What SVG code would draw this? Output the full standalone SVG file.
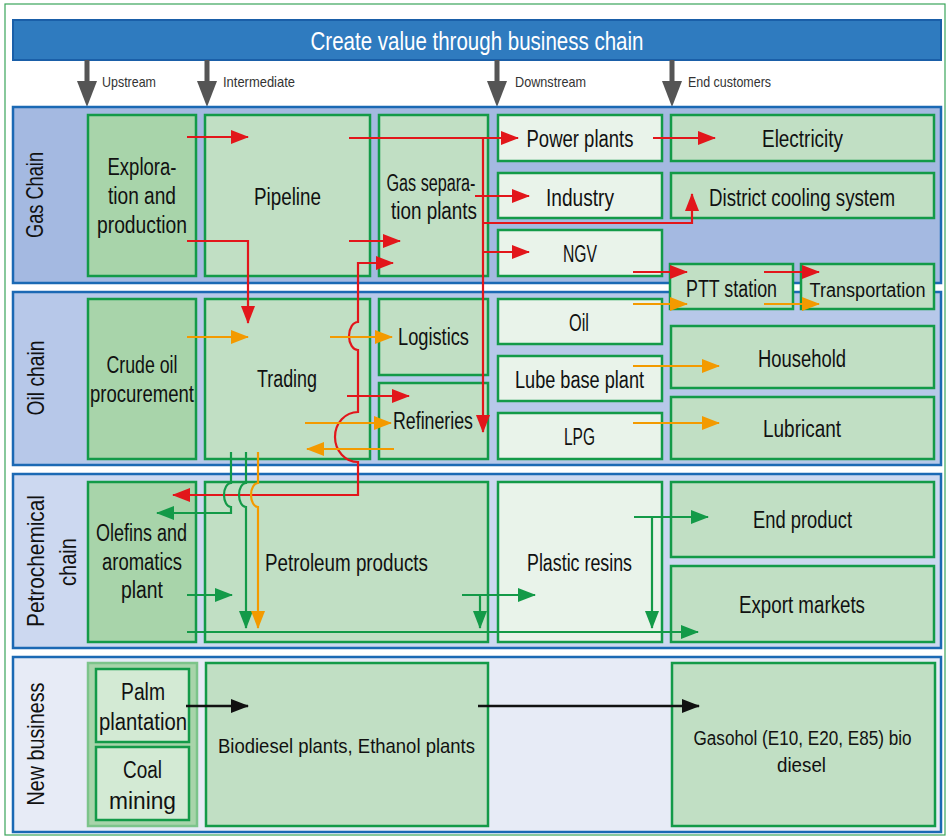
<svg xmlns="http://www.w3.org/2000/svg" width="949" height="839" viewBox="0 0 949 839">
<defs>
<style>
.t{font-family:"Liberation Sans Narrow","Liberation Sans",Arial,sans-serif;fill:#111;font-size:23.5px;text-anchor:middle}
.hd{font-family:"Liberation Sans Narrow","Liberation Sans",Arial,sans-serif;fill:#333;font-size:15px}
.side{font-family:"Liberation Sans","DejaVu Sans",sans-serif;fill:#111;font-size:24px;text-anchor:middle}
.panel{stroke:#1b69b4;stroke-width:2.5}
.bx{stroke:#139a48;stroke-width:2.5}
.dk{fill:#a8d4aa}.md{fill:#c1dfc4}.lt{fill:#e9f3ea}
.r{fill:none;stroke:#e2161b;stroke-width:2.2}
.o{fill:none;stroke:#f39a00;stroke-width:2.2}
.g{fill:none;stroke:#139a48;stroke-width:2.2}
.k{fill:none;stroke:#111;stroke-width:2.4}
</style>
<marker id="ar" markerUnits="userSpaceOnUse" markerWidth="18" markerHeight="14" refX="17" refY="7" orient="auto-start-reverse"><path d="M0,0 L18,7 L0,14 z" fill="#e2161b"/></marker>
<marker id="ao" markerUnits="userSpaceOnUse" markerWidth="18" markerHeight="14" refX="17" refY="7" orient="auto-start-reverse"><path d="M0,0 L18,7 L0,14 z" fill="#f39a00"/></marker>
<marker id="ag" markerUnits="userSpaceOnUse" markerWidth="18" markerHeight="14" refX="17" refY="7" orient="auto-start-reverse"><path d="M0,0 L18,7 L0,14 z" fill="#139a48"/></marker>
<marker id="ak" markerUnits="userSpaceOnUse" markerWidth="18" markerHeight="14" refX="17" refY="7" orient="auto"><path d="M0,0 L18,7 L0,14 z" fill="#111"/></marker>
</defs>
<rect x="0" y="0" width="949" height="839" fill="#fff"/>
<rect x="5" y="4" width="940" height="831" fill="#fff" stroke="#3aa55a" stroke-width="1.2"/>

<g id="banner">
<rect x="13" y="20" width="928" height="40" fill="#2f7bbf" stroke="#1a5fa8" stroke-width="2"/>
<text x="477" y="50" class="t" style="fill:#fff;font-size:25px" textLength="333" lengthAdjust="spacingAndGlyphs">Create value through business chain</text>
</g>

<g id="stages" fill="#555">
<rect x="84.5" y="60" width="5" height="24"/><polygon points="77,81 97,81 87,107"/>
<rect x="204.5" y="60" width="5" height="24"/><polygon points="197,81 217,81 207,107"/>
<rect x="494.5" y="60" width="5" height="24"/><polygon points="487,81 507,81 497,107"/>
<rect x="669.5" y="60" width="5" height="24"/><polygon points="662,81 682,81 672,107"/>
<text x="102" y="87" class="hd" textLength="54" lengthAdjust="spacingAndGlyphs">Upstream</text>
<text x="223" y="87" class="hd" textLength="72" lengthAdjust="spacingAndGlyphs">Intermediate</text>
<text x="515" y="87" class="hd" textLength="71" lengthAdjust="spacingAndGlyphs">Downstream</text>
<text x="688" y="87" class="hd" textLength="83" lengthAdjust="spacingAndGlyphs">End customers</text>
</g>

<g id="panels">
<g id="gas-chain"><rect x="13" y="107" width="928" height="176" fill="#a4b9e1" class="panel"/>
<text transform="translate(43,195) rotate(-90)" class="side" textLength="86" lengthAdjust="spacingAndGlyphs">Gas Chain</text></g>
<g id="oil-chain"><rect x="13" y="292" width="928" height="173" fill="#b7c8e9" class="panel"/>
<text transform="translate(44,378) rotate(-90)" class="side" textLength="75" lengthAdjust="spacingAndGlyphs">Oil chain</text></g>
<g id="petro-chain"><rect x="13" y="474" width="928" height="174" fill="#ccd8f0" class="panel"/>
<text transform="translate(44,561) rotate(-90)" class="side" textLength="132" lengthAdjust="spacingAndGlyphs">Petrochemical</text>
<text transform="translate(76,562) rotate(-90)" class="side" textLength="48" lengthAdjust="spacingAndGlyphs">chain</text></g>
<g id="new-business"><rect x="13" y="657" width="928" height="175" fill="#e7ebf6" class="panel"/>
<text transform="translate(44,744) rotate(-90)" class="side" textLength="123" lengthAdjust="spacingAndGlyphs">New business</text></g>
</g>

<g id="exploration"><rect x="88" y="115" width="108" height="161" class="bx dk"/>
<text x="142" y="175" class="t" textLength="69" lengthAdjust="spacingAndGlyphs">Explora-</text>
<text x="142" y="204" class="t" textLength="68" lengthAdjust="spacingAndGlyphs">tion and</text>
<text x="142" y="233" class="t" textLength="90" lengthAdjust="spacingAndGlyphs">production</text></g>
<g id="pipeline"><rect x="205" y="115" width="165" height="161" class="bx md"/>
<text x="287.5" y="205" class="t" textLength="67" lengthAdjust="spacingAndGlyphs">Pipeline</text></g>
<g id="gas-separation"><rect x="379" y="115" width="109" height="161" class="bx md"/>
<text x="431" y="191" class="t" textLength="89" lengthAdjust="spacingAndGlyphs">Gas separa-</text>
<text x="434" y="219" class="t" textLength="86" lengthAdjust="spacingAndGlyphs">tion plants</text></g>
<g id="power-plants"><rect x="498" y="115" width="164" height="46" class="bx lt"/>
<text x="580" y="147" class="t" textLength="107" lengthAdjust="spacingAndGlyphs">Power plants</text></g>
<g id="electricity"><rect x="671" y="115" width="263" height="46" class="bx md"/>
<text x="802.5" y="147" class="t" textLength="81" lengthAdjust="spacingAndGlyphs">Electricity</text></g>
<g id="industry"><rect x="498" y="173" width="164" height="45" class="bx lt"/>
<text x="580" y="206" class="t" textLength="68" lengthAdjust="spacingAndGlyphs">Industry</text></g>
<g id="district-cooling"><rect x="671" y="173" width="263" height="45" class="bx md"/>
<text x="802" y="206" class="t" textLength="186" lengthAdjust="spacingAndGlyphs">District cooling system</text></g>
<g id="ngv"><rect x="498" y="230" width="164" height="46" class="bx lt"/>
<text x="580" y="262" class="t" textLength="34" lengthAdjust="spacingAndGlyphs">NGV</text></g>
<g id="ptt-station"><rect x="670" y="264" width="123" height="45" class="bx md"/>
<text x="731.5" y="297" class="t" textLength="91" lengthAdjust="spacingAndGlyphs">PTT station</text></g>
<g id="transportation"><rect x="801" y="264" width="133" height="45" class="bx md"/>
<text x="867.5" y="297" class="t" style="font-size:20px" textLength="116" lengthAdjust="spacingAndGlyphs">Transportation</text></g>

<g id="crude-oil"><rect x="88" y="299" width="108" height="160" class="bx dk"/>
<text x="142" y="373" class="t" textLength="71" lengthAdjust="spacingAndGlyphs">Crude oil</text>
<text x="142" y="402" class="t" textLength="104" lengthAdjust="spacingAndGlyphs">procurement</text></g>
<g id="trading"><rect x="205" y="299" width="165" height="160" class="bx md"/>
<text x="287" y="387" class="t" textLength="60" lengthAdjust="spacingAndGlyphs">Trading</text></g>
<g id="logistics"><rect x="379" y="299" width="109" height="76" class="bx md"/>
<text x="433.5" y="345" class="t" textLength="71" lengthAdjust="spacingAndGlyphs">Logistics</text></g>
<g id="refineries"><rect x="379" y="383" width="109" height="76" class="bx md"/>
<text x="433" y="429" class="t" textLength="80" lengthAdjust="spacingAndGlyphs">Refineries</text></g>
<g id="oil"><rect x="498" y="299" width="164" height="45" class="bx lt"/>
<text x="579" y="331" class="t" textLength="20" lengthAdjust="spacingAndGlyphs">Oil</text></g>
<g id="lube-base"><rect x="498" y="356" width="164" height="45" class="bx lt"/>
<text x="579.5" y="388" class="t" textLength="129" lengthAdjust="spacingAndGlyphs">Lube base plant</text></g>
<g id="lpg"><rect x="498" y="413" width="164" height="46" class="bx lt"/>
<text x="579.5" y="445" class="t" textLength="31" lengthAdjust="spacingAndGlyphs">LPG</text></g>
<g id="household"><rect x="671" y="326" width="263" height="62" class="bx md"/>
<text x="802" y="367" class="t" textLength="88" lengthAdjust="spacingAndGlyphs">Household</text></g>
<g id="lubricant"><rect x="671" y="397" width="263" height="62" class="bx md"/>
<text x="802" y="437" class="t" textLength="78" lengthAdjust="spacingAndGlyphs">Lubricant</text></g>

<g id="olefins"><rect x="88" y="482" width="108" height="160" class="bx dk"/>
<text x="141.5" y="541" class="t" textLength="91" lengthAdjust="spacingAndGlyphs">Olefins and</text>
<text x="142" y="570" class="t" textLength="80" lengthAdjust="spacingAndGlyphs">aromatics</text>
<text x="142" y="598" class="t" textLength="42" lengthAdjust="spacingAndGlyphs">plant</text></g>
<g id="petroleum-products"><rect x="205" y="482" width="283" height="160" class="bx md"/>
<text x="346.5" y="571" class="t" textLength="163" lengthAdjust="spacingAndGlyphs">Petroleum products</text></g>
<g id="plastic-resins"><rect x="498" y="482" width="164" height="160" class="bx lt"/>
<text x="579.5" y="571" class="t" textLength="105" lengthAdjust="spacingAndGlyphs">Plastic resins</text></g>
<g id="end-product"><rect x="671" y="482" width="263" height="75" class="bx md"/>
<text x="802.5" y="528" class="t" textLength="99" lengthAdjust="spacingAndGlyphs">End product</text></g>
<g id="export-markets"><rect x="671" y="566" width="263" height="76" class="bx md"/>
<text x="802" y="613" class="t" textLength="126" lengthAdjust="spacingAndGlyphs">Export markets</text></g>

<g id="feedstock"><rect x="88" y="663" width="109" height="163" fill="#a8d4aa" stroke="#7cc48a" stroke-width="2.5"/></g>
<g id="palm"><rect x="96" y="669" width="93" height="73" fill="#d3ead4" class="bx"/>
<text x="143" y="700" class="t" textLength="44" lengthAdjust="spacingAndGlyphs">Palm</text>
<text x="143" y="730" class="t" textLength="88" lengthAdjust="spacingAndGlyphs">plantation</text></g>
<g id="coal"><rect x="96" y="747" width="93" height="73" fill="#d3ead4" class="bx"/>
<text x="142.5" y="778" class="t" textLength="39" lengthAdjust="spacingAndGlyphs">Coal</text>
<text x="142.5" y="809" class="t" textLength="67" lengthAdjust="spacingAndGlyphs">mining</text></g>
<g id="biodiesel"><rect x="206" y="663" width="282" height="163" class="bx md"/>
<text x="346.5" y="753" class="t" style="font-size:21px" textLength="257" lengthAdjust="spacingAndGlyphs">Biodiesel plants, Ethanol plants</text></g>
<g id="gasohol"><rect x="672" y="663" width="263" height="163" class="bx md"/>
<text x="802.5" y="745" class="t" style="font-size:20px" textLength="218" lengthAdjust="spacingAndGlyphs">Gasohol (E10, E20, E85) bio</text>
<text x="801.5" y="772" class="t" style="font-size:20px" textLength="49" lengthAdjust="spacingAndGlyphs">diesel</text></g>

<g id="connectors">
<path class="r" d="M187,137 L248,137" marker-end="url(#ar)"/>
<path class="r" d="M187,241 L248,241 L248,323" marker-end="url(#ar)"/>
<path class="r" d="M349,138 L518,138" marker-end="url(#ar)"/>
<path class="r" d="M483,138 L483,432" marker-end="url(#ar)"/>
<path class="r" d="M475,196 L529,196" marker-end="url(#ar)"/>
<path class="r" d="M483,223 L692,223 L692,194" marker-end="url(#ar)"/>
<path class="r" d="M483,252 L529,252" marker-end="url(#ar)"/>
<path class="r" d="M349,241 L400,241" marker-end="url(#ar)"/>
<path class="r" d="M393,263 L358,263 L358,322 A9 14 0 0 0 358,350 L358,412 A23 25 0 0 0 358,462 L358,495 L173,495" marker-start="url(#ar)" marker-end="url(#ar)"/>
<path class="r" d="M347,396 L409,396" marker-end="url(#ar)"/>
<path class="r" d="M653,138 L715,138" marker-end="url(#ar)"/>
<path class="r" d="M633,272 L687,272" marker-end="url(#ar)"/>
<path class="r" d="M764,272 L819,272" marker-end="url(#ar)"/>

<path class="o" d="M187,337 L248,337" marker-end="url(#ao)"/>
<path class="o" d="M330,337 L392,337" marker-end="url(#ao)"/>
<path class="o" d="M305,423 L391,423" marker-end="url(#ao)"/>
<path class="o" d="M394,449 L307,449" marker-end="url(#ao)"/>
<path class="o" d="M633,304 L687,304" marker-end="url(#ao)"/>
<path class="o" d="M764,304 L819,304" marker-end="url(#ao)"/>
<path class="o" d="M633,366 L719,366" marker-end="url(#ao)"/>
<path class="o" d="M633,423 L719,423" marker-end="url(#ao)"/>

<path class="g" d="M231,452 L231,483 A7 12 0 0 0 231,507 L231,513 L157,513" marker-end="url(#ag)"/>
<path class="g" d="M246,452 L246,483 A7 12 0 0 0 246,507 L246,628" marker-end="url(#ag)"/>
<path class="o" d="M258,452 L258,483 A7 12 0 0 0 258,507 L258,628" marker-end="url(#ao)"/>
<path class="g" d="M187,595 L232,595" marker-end="url(#ag)"/>
<path class="g" d="M187,632 L698,632" marker-end="url(#ag)"/>
<path class="g" d="M462,595 L535,595" marker-end="url(#ag)"/>
<path class="g" d="M480,595 L480,628" marker-end="url(#ag)"/>
<path class="g" d="M634,517 L708,517" marker-end="url(#ag)"/>
<path class="g" d="M652,517 L652,628" marker-end="url(#ag)"/>

<path class="k" d="M186,706 L248,706" marker-end="url(#ak)"/>
<path class="k" d="M478,706 L699,706" marker-end="url(#ak)"/>
</g>
</svg>
